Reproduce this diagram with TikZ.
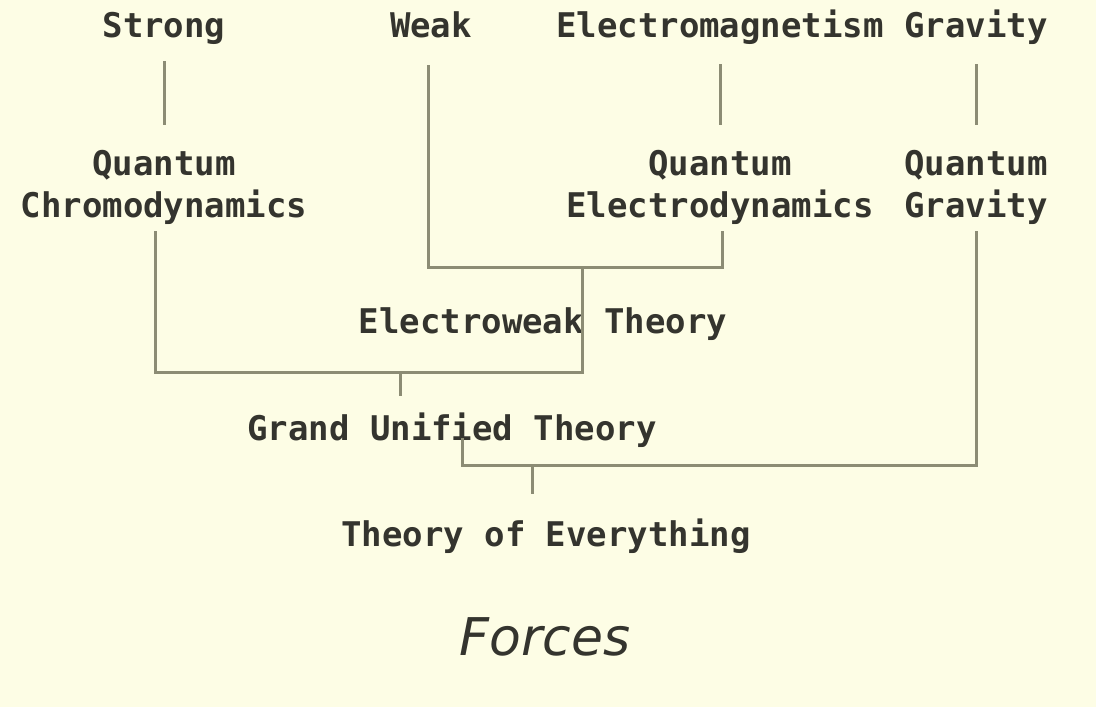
\documentclass[tikz,border=0pt]{standalone}
\usepackage{fontspec}
\setmonofont{DejaVu Sans Mono}
\newfontfamily\forcesfont{DejaVu Sans}
\definecolor{bg}{HTML}{FDFDE5}
\definecolor{ink}{HTML}{34342E}
\definecolor{wire}{HTML}{8C8C74}
\tikzset{
  lbl/.style={inner sep=0pt, outer sep=0pt, text=ink, align=center, anchor=base,
    font=\ttfamily\bfseries\fontsize{34}{42}\selectfont},
  conn/.style={draw=wire, line width=3pt},
}
\begin{document}
\begin{tikzpicture}[x=1pt,y=-1pt]
\fill[bg] (0,0) rectangle (1096,707);
\useasboundingbox (0,0) rectangle (1096,707);
% top row
\node[lbl] (strong) at (164,37) {Strong};
\node[lbl] (weak) at (431,37) {Weak};
\node[lbl] (em) at (720,37) {Electromagnetism};
\node[lbl] (grav) at (976,37) {Gravity};
% second row
\node[lbl] (qcd) at (164,217) {Quantum\\Chromodynamics};
\node[lbl] (qed) at (720,217) {Quantum\\Electrodynamics};
\node[lbl] (qg) at (976,217) {Quantum\\Gravity};
% theories
\node[lbl] (ewt) at (543,333) {Electroweak Theory};
\node[lbl] (gutt) at (452,440) {Grand Unified Theory};
\node[lbl] (toet) at (546,546) {Theory of Everything};
\node[inner sep=0pt, anchor=base, text=ink, font=\forcesfont\itshape\fontsize{52}{60}\selectfont] (forces) at (545,655) {Forces};
% junctions
\coordinate (ew) at (582,267);
\coordinate (gut) at (400,372);
\coordinate (toe) at (532,465);
% connectors
\draw[conn, shorten <=17pt, shorten >=25pt] (strong.south) -- (qcd.north);
\draw[conn, shorten <=20pt, shorten >=25pt] (em.south) -- (qed.north);
\draw[conn, shorten <=20pt, shorten >=25pt] (grav.south) -- (qg.north);
\draw[conn, shorten <=28pt, shorten >=7pt] ([xshift=-3pt]weak.south) |- (ew) -| ([xshift=2pt]qed.south);
\draw[conn, shorten >=7pt] (ew) |- (gut) -| ([xshift=-9pt]qcd.south);
\draw[conn] (gut) -- ([yshift=16pt]gut |- gutt.north);
\draw[conn, shorten >=7pt] ([xshift=10pt,yshift=2pt]gutt.base) |- (toe) -| (qg.south);
\draw[conn] (toe) -- ([yshift=24pt]toe |- toet.north);
\end{tikzpicture}
\end{document}
